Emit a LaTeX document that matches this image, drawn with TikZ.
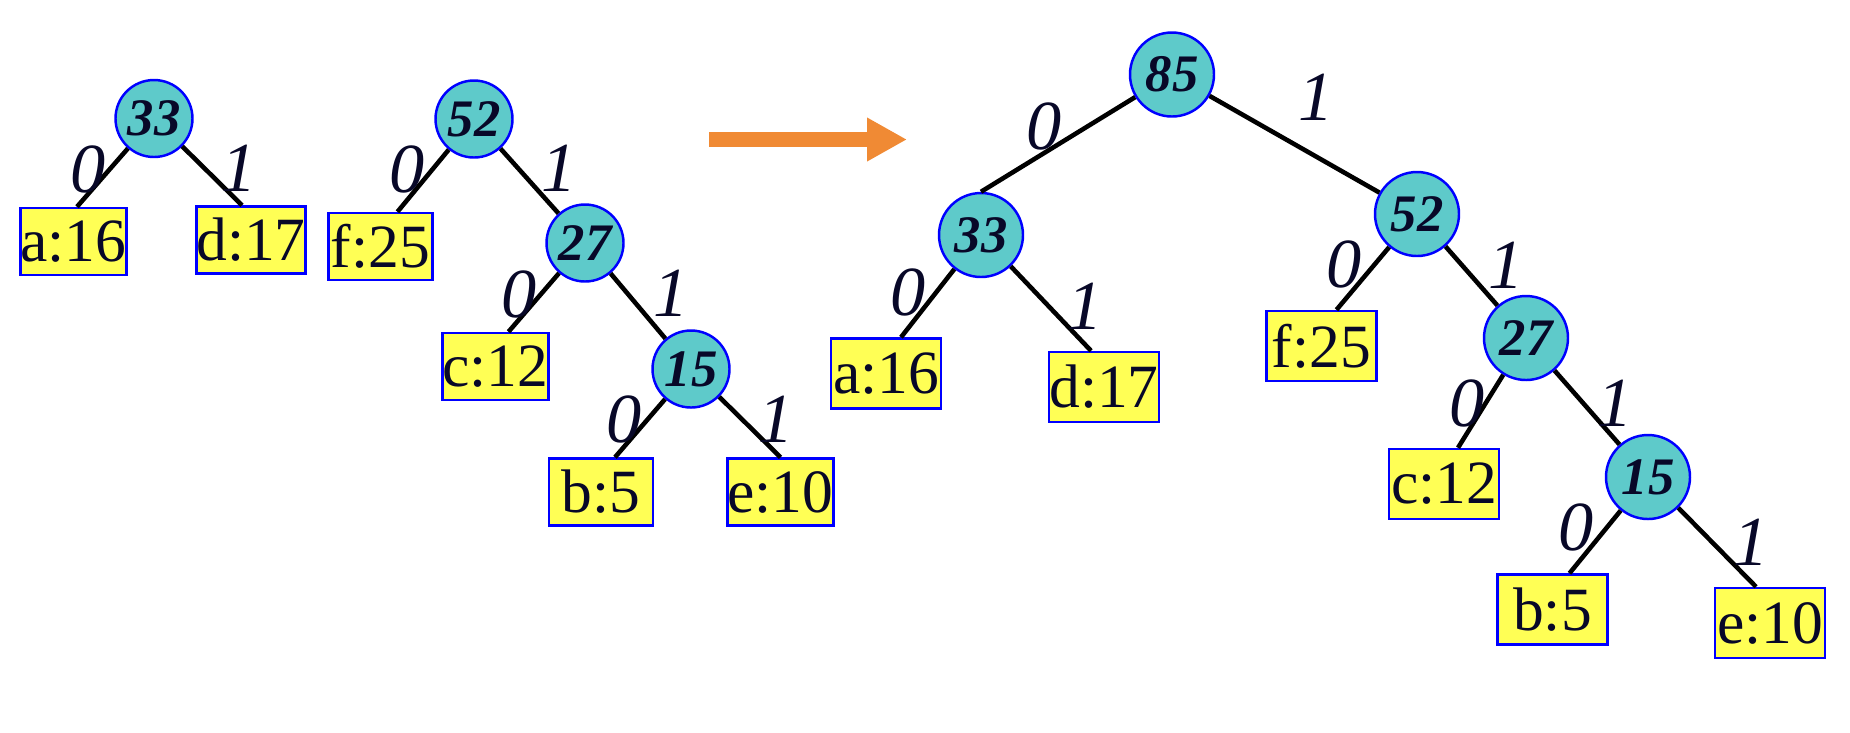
\documentclass[tikz,border=0pt]{standalone}
\usepackage{fontspec}
\setmainfont{Liberation Serif}
\usetikzlibrary{arrows.meta}
\definecolor{huffteal}{RGB}{94,202,202}
\definecolor{huffyellow}{RGB}{255,255,85}
\definecolor{hufforange}{RGB}{240,138,52}
\definecolor{inkblue}{RGB}{8,8,40}
\tikzset{
    % internal (weight) nodes
    hnode/.style={circle, draw=blue, line width=0.7pt, fill=huffteal, inner sep=0pt,
                 minimum size=#1, font=\fontsize{15}{15}\selectfont\bfseries\itshape, text=inkblue},
    hnode/.default=0.77cm,
    % leaves
    hleaf/.style={rectangle, draw=blue, line width=0.7pt, fill=huffyellow, inner sep=0pt,
                 minimum width=1.04cm, minimum height=0.67cm, font=\fontsize{17.5}{17.5}\selectfont, text=inkblue},
    bigleaf/.style={hleaf, minimum width=1.10cm, minimum height=0.70cm},
    % edge bits
    hbit/.style={font=\fontsize{20}{20}\selectfont\itshape, text=inkblue},
    hedge/.style={line width=1.3pt, black},
    harrow/.style={-{Triangle[length=4mm, width=4.1mm]}, line width=1.5mm, hufforange},
}
\begin{document}
\begin{tikzpicture}
\useasboundingbox (0,0) rectangle (18.5,-7.32);
% tree 33
\node[hnode] (n33) at (1.54,-1.185) {33};
\node[hleaf] (a16) at (0.735,-2.415) {a:16};
\node[hleaf] (d17) at (2.51,-2.40) {d:17};
\draw[hedge] (n33) -- ([xshift=0.035cm]a16.north);
\draw[hedge] (n33) -- ([xshift=-0.09cm]d17.north);
\node[hbit] (s-a16) at (0.88,-1.69) {0};
\node[hbit] (s-d17) at (2.39,-1.68) {1};
% tree 52
\node[hnode] (n52) at (4.74,-1.19) {52};
\node[hleaf] (f25) at (3.805,-2.465) {f:25};
\node[hnode] (n27) at (5.85,-2.43) {27};
\node[hleaf] (c12) at (4.955,-3.665) {c:12};
\node[hnode] (n15) at (6.91,-3.69) {15};
\node[hleaf] (b5) at (6.01,-4.92) {b:5};
\node[hleaf] (e10) at (7.805,-4.92) {e:10};
\draw[hedge] (n52) -- ([xshift=0.17cm]f25.north);
\draw[hedge] (n52) -- (n27);
\draw[hedge] (n27) -- ([xshift=0.13cm]c12.north);
\draw[hedge] (n27) -- (n15);
\draw[hedge] (n15) -- ([xshift=0.14cm]b5.north);
\draw[hedge] (n15) -- (e10.north);
\node[hbit] (s-f25) at (4.07,-1.69) {0};
\node[hbit] (s-n27) at (5.59,-1.68) {1};
\node[hbit] (s-c12) at (5.19,-2.94) {0};
\node[hbit] (s-n15) at (6.71,-2.93) {1};
\node[hbit] (s-b5) at (6.24,-4.19) {0};
\node[hbit] (s-e10) at (7.76,-4.19) {1};
% merge arrow
\coordinate (ar0) at (7.09,-1.395);
\coordinate (ar1) at (9.07,-1.395);
\draw[harrow] (ar0) -- (ar1);
% merged tree 85
\node[hnode=0.84cm] (m85) at (11.72,-0.745) {85};
\node[hnode=0.84cm] (m33) at (9.81,-2.35) {33};
\node[hnode=0.84cm] (m52) at (14.17,-2.14) {52};
\node[bigleaf] (ra16) at (8.86,-3.735) {a:16};
\node[bigleaf] (rd17) at (11.04,-3.87) {d:17};
\node[bigleaf] (rf25) at (13.215,-3.46) {f:25};
\node[hnode=0.84cm] (m27) at (15.26,-3.38) {27};
\node[bigleaf] (rc12) at (14.44,-4.84) {c:12};
\node[hnode=0.84cm] (m15) at (16.48,-4.77) {15};
\node[bigleaf] (rb5) at (15.525,-6.095) {b:5};
\node[bigleaf] (re10) at (17.70,-6.23) {e:10};
\draw[hedge] (m85) -- (m33.north);
\draw[hedge] (m85) -- (m52);
\draw[hedge] (m33) -- ([xshift=0.15cm]ra16.north);
\draw[hedge] (m33) -- ([xshift=-0.13cm]rd17.north);
\draw[hedge] (m52) -- ([xshift=0.15cm]rf25.north);
\draw[hedge] (m52) -- (m27);
\draw[hedge] (m27) -- ([xshift=0.14cm]rc12.north);
\draw[hedge] (m27) -- (m15);
\draw[hedge] (m15) -- ([xshift=0.17cm]rb5.north);
\draw[hedge] (m15) -- ([xshift=-0.14cm]re10.north);
\node[hbit] (t-m33) at (10.44,-1.26) {0};
\node[hbit] (t-m52) at (13.16,-0.97) {1};
\node[hbit] (t-a16) at (9.08,-2.92) {0};
\node[hbit] (t-d17) at (10.85,-3.06) {1};
\node[hbit] (t-f25) at (13.44,-2.64) {0};
\node[hbit] (t-m27) at (15.06,-2.65) {1};
\node[hbit] (t-c12) at (14.67,-4.03) {0};
\node[hbit] (t-m15) at (16.15,-4.03) {1};
\node[hbit] (t-b5) at (15.76,-5.27) {0};
\node[hbit] (t-e10) at (17.51,-5.42) {1};
\end{tikzpicture}
\end{document}
